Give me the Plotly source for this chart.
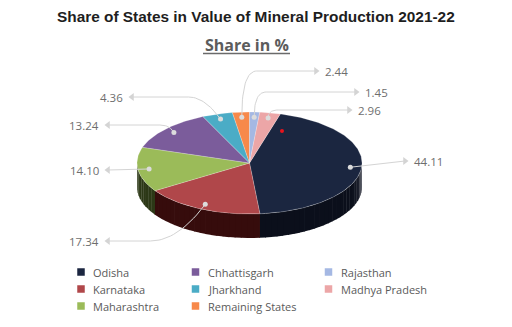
import numpy as np
import plotly.graph_objects as go

# ---------------- data ----------------
states = ["Odisha", "Karnataka", "Maharashtra", "Chhattisgarh", "Jharkhand",
          "Remaining States", "Rajasthan", "Madhya Pradesh"]
shares = [44.11, 17.34, 14.10, 13.24, 4.36, 2.44, 1.45, 2.96]
value_labels = ["44.11", "17.34", "14.10", "13.24", "4.36", "2.44", "1.45", "2.96"]

# ---------------- styles ----------------
top_colors = ["#1b2640", "#b0474a", "#9bbb59", "#7b5c9b", "#4bacc6",
              "#f7894a", "#a5b8e3", "#eca6a7"]
side_colors = ["#0b0f1b", "#360c0c", "#2c3816", "#2a1f36", "#173a44",
               "#4a2810", "#343c4a", "#4a3434"]

cx, cy, rx, ry, depth = 249.5, 163.0, 112.5, 51.0, 24.0
start_deg = 15.9
dot_f = 0.9

# label placement (style): label y, arrow x, side(+1 right / -1 left), bend width, bend ctrl
label_y = [161, 241, 170, 125, 97, 71, 92, 110]
arrow_x = [405, 108, 108, 108, 132, 316, 356, 349]
label_side = [1, -1, -1, -1, -1, 1, 1, 1]
bend_w = [0, 55, 0, 14, 32, 15, 12, 10]
bend_c = [0, 0.5, 0, 0.3, 0.5, 0, 0, 0]

LINE_C = "#d4d4d4"
TEXT_C = "#6e6e6e"


def pt(t_deg, f=1.0, dy=0.0):
    t = np.radians(t_deg)
    return cx + rx * f * np.sin(t), cy - ry * f * np.cos(t) + dy


fig = go.Figure()

total = sum(shares)
bounds = [start_deg]
for s in shares:
    bounds.append(bounds[-1] + 360.0 * s / total)

# ---- side faces (visible front half: 90..270 deg) ----
for i, s in enumerate(shares):
    a0, a1 = bounds[i], bounds[i + 1]
    lo, hi = max(a0, 90), min(a1, 270)
    if hi <= lo:
        continue
    nstrip = max(2, int((hi - lo) / 3))
    edges = np.linspace(lo, hi, nstrip + 1)
    base = np.array([int(side_colors[i][k:k + 2], 16) for k in (1, 3, 5)], float)
    for j in range(nstrip):
        e0, e1 = edges[j], edges[j + 1]
        mid = 0.5 * (e0 + e1)
        boost = max(0.0, (115 - mid) / 25.0)  # lighter towards the right rim
        col = np.clip(base + boost * 40, 0, 255).astype(int)
        ts = np.linspace(e0, e1 + 0.4, 6)
        xs_t, ys_t = pt(ts)
        xs_b, ys_b = pt(ts[::-1], dy=depth)
        fig.add_trace(go.Scatter(
            x=np.concatenate([xs_t, xs_b]), y=np.concatenate([ys_t, ys_b]),
            mode="lines", fill="toself", line=dict(width=0),
            fillcolor="rgb(%d,%d,%d)" % tuple(col),
            hoverinfo="skip", showlegend=False))

# ---- top faces ----
for i, s in enumerate(shares):
    a0, a1 = bounds[i], bounds[i + 1]
    ts = np.linspace(a0, a1, max(4, int(a1 - a0) + 2))
    xs, ys = pt(ts)
    fig.add_trace(go.Scatter(
        x=np.concatenate([[cx], xs, [cx]]), y=np.concatenate([[cy], ys, [cy]]),
        mode="lines", fill="toself", line=dict(width=0.6, color="rgba(255,255,255,0.35)"),
        fillcolor=top_colors[i], name=states[i],
        hovertemplate="%s: %.2f%%<extra></extra>" % (states[i], s),
        showlegend=False))

# ---- leader lines, dots, arrows, labels ----
annotations = []
for i, s in enumerate(shares):
    mid = 0.5 * (bounds[i] + bounds[i + 1])
    dx, dy = pt(mid, dot_f)
    ly, ax_, sd = label_y[i], arrow_x[i], label_side[i]
    if bend_w[i] == 0:
        px, py = [dx, ax_], [dy, ly]
    else:
        ex = dx + sd * bend_w[i]
        ctrlx = dx + sd * bend_w[i] * bend_c[i]
        tt = np.linspace(0, 1, 20)
        bx = (1 - tt) ** 2 * dx + 2 * (1 - tt) * tt * ctrlx + tt ** 2 * ex
        by = (1 - tt) ** 2 * dy + 2 * (1 - tt) * tt * ly + tt ** 2 * ly
        px = list(bx) + [ax_]
        py = list(by) + [ly]
    fig.add_trace(go.Scatter(x=px, y=py, mode="lines",
                             line=dict(color=LINE_C, width=1),
                             hoverinfo="skip", showlegend=False))
    fig.add_trace(go.Scatter(x=[dx], y=[dy], mode="markers",
                             marker=dict(size=5, color="#dcdcdc",
                                         line=dict(width=0)),
                             hoverinfo="skip", showlegend=False))
    fig.add_trace(go.Scatter(x=[ax_], y=[ly], mode="markers",
                             marker=dict(size=7, color=LINE_C,
                                         symbol="triangle-right" if sd > 0 else "triangle-left"),
                             hoverinfo="skip", showlegend=False))
    annotations.append(dict(
        x=ax_ + sd * 7, y=ly, xref="x", yref="y",
        text=value_labels[i], showarrow=False,
        xanchor="left" if sd > 0 else "right", yanchor="middle",
        font=dict(family="Open Sans", size=11.5, color=TEXT_C)))

# small red marker seen on the chart
fig.add_trace(go.Scatter(x=[282], y=[131], mode="markers",
                         marker=dict(size=4, color="#e8141c"),
                         hoverinfo="skip", showlegend=False))

# ---- legend (3 columns, column-major) ----
leg_col_x = [81, 195.5, 328.5]
leg_row_y = [272, 289, 306]
for i, name in enumerate(states):
    c, r = i // 3, i % 3
    fig.add_trace(go.Scatter(x=[leg_col_x[c]], y=[leg_row_y[r]], mode="markers",
                             marker=dict(symbol="square", size=7.5, color=top_colors[i]),
                             hoverinfo="skip", showlegend=False))
    annotations.append(dict(
        x=leg_col_x[c] + 10, y=leg_row_y[r], xref="x", yref="y",
        text=name, showarrow=False, xanchor="left", yanchor="middle",
        font=dict(family="Open Sans", size=11, color="#5a5a5a")))

# ---- titles ----
annotations.append(dict(
    x=255.5, y=16, xref="x", yref="y", showarrow=False,
    text="<b>Share of States in Value of Mineral Production 2021-22</b>",
    xanchor="center", yanchor="middle",
    font=dict(family="Liberation Sans", size=15.4, color="#1e1e1e")))
annotations.append(dict(
    x=246.5, y=45, xref="x", yref="y", showarrow=False,
    text="<b>Share in %</b>", xanchor="center", yanchor="middle",
    font=dict(family="Open Sans", size=16, color="#5c5c5c")))

fig.update_layout(
    width=512, height=327,
    margin=dict(l=0, r=0, t=0, b=0),
    paper_bgcolor="white", plot_bgcolor="white",
    xaxis=dict(range=[0, 512], visible=False, fixedrange=True),
    yaxis=dict(range=[327, 0], visible=False, fixedrange=True),
    annotations=annotations,
    shapes=[dict(type="line", xref="x", yref="y", x0=203, x1=290, y0=53.5, y1=53.5,
                 line=dict(color="#6a6a6a", width=1.5))],
    showlegend=False,
)

fig.write_html("out.html")
